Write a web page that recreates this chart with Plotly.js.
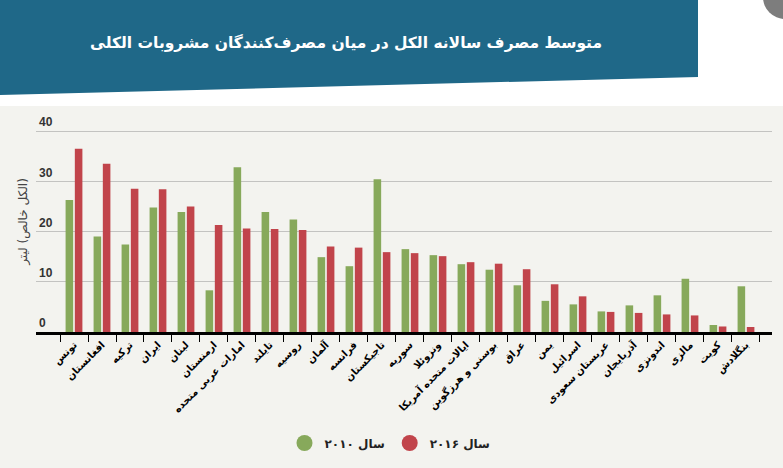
<!DOCTYPE html>
<html>
<head>
<meta charset="utf-8">
<script src="https://cdn.plot.ly/plotly-3.0.1.min.js"></script>
<style>html,body{margin:0;padding:0;background:#fff;}#chart{width:783px;height:468px;}</style>
</head>
<body>
<div id="chart"></div>
<script>
var countries = ['تونس','افغانستان','ترکیه','ایران','لبنان','ارمنستان','امارات عربی متحده','تایلند','روسیه','آلمان','فرانسه','تاجیکستان','سوریه','ونزوئلا','ایالات متحده آمریکا','بوسنی و هرزگوین','عراق','یمن','اسرائیل','عربستان سعودی','آذربایجان','اندونزی','مالزی','کویت','بنگلادش'];
var values2010 = [26.3, 19.0, 17.4, 24.8, 23.9, 8.3, 32.8, 23.9, 22.4, 14.9, 13.1, 30.4, 16.5, 15.3, 13.5, 12.4, 9.3, 6.2, 5.5, 4.1, 5.3, 7.3, 10.6, 1.4, 9.1];
var values2016 = [36.5, 33.5, 28.5, 28.4, 25.0, 21.3, 20.6, 20.5, 20.3, 17.0, 16.8, 15.9, 15.7, 15.1, 13.9, 13.6, 12.5, 9.5, 7.1, 4.0, 3.8, 3.5, 3.3, 1.1, 1.0];
var yTickValues = [0, 10, 20, 30, 40];
var yTickLabels = ['0', '10', '20', '30', '40'];
var seriesNames = ['سال ۲۰۱۰', 'سال ۲۰۱۶'];
var titleText = 'متوسط مصرف سالانه الکل در میان مصرف‌کنندگان مشروبات الکلی';
var yTitleText = '\u200F(الکل خالص) لیتر\u200F';

var GREEN = '#87a95b';
var RED = '#c1444b';

// plot area: x 36..772; y value 0 at 332 px, 5.025 px per unit, range top 44
var YMAX = 44, PB = 332, PT = Math.round(332 - 44 * 5.025);
function px(x){ return (x - 36) / 736; }
function py(y){ return (PB - y) / (PB - PT); }

var traces = [
  {type:'bar', x:countries, y:values2010, name:seriesNames[0], marker:{color:GREEN}, showlegend:false, hoverinfo:'skip'},
  {type:'bar', x:countries, y:values2016, name:seriesNames[1], marker:{color:RED}, showlegend:false, hoverinfo:'skip'},
  {type:'scatter', mode:'markers', x:[null], y:[null], name:seriesNames[0], marker:{color:GREEN, size:16, symbol:'circle'}},
  {type:'scatter', mode:'markers', x:[null], y:[null], name:seriesNames[1], marker:{color:RED, size:16, symbol:'circle'}}
];

var layout = {
  width:783, height:468,
  margin:{l:36, r:11, t:PT, b:468-PB, pad:0},
  paper_bgcolor:'#ffffff',
  plot_bgcolor:'rgba(0,0,0,0)',
  font:{family:'DejaVu Sans, sans-serif', color:'#222'},
  barmode:'group',
  bargap:0.34,
  bargroupgap:0.18,
  title:{text:'<b>'+titleText+'</b>', x:346/783, xanchor:'center', y:1-43/468, yanchor:'middle',
         font:{family:'DejaVu Sans, sans-serif', size:15.5, color:'#ffffff'}},
  xaxis:{
    type:'category',
    range:[-1.357, 24.929],
    tickson:'boundaries',
    ticks:'outside', ticklen:7, tickwidth:1, tickcolor:'#000',
    showline:true, linecolor:'#000', linewidth:3,
    showgrid:false, zeroline:false,
    tickangle:-45,
    tickfont:{family:'DejaVu Sans, sans-serif', size:10, color:'#000', weight:'bold'},
    fixedrange:true
  },
  yaxis:{
    range:[0, YMAX],
    tickmode:'array', tickvals:yTickValues, ticktext:yTickLabels,
    ticks:'', ticklabelposition:'inside', ticklabelshift:-9, ticklabelstandoff:0,
    tickfont:{family:'Liberation Sans, Arial, sans-serif', size:12, color:'#333', weight:'bold'},
    showgrid:true, gridcolor:'#c3c3c1', gridwidth:1,
    zeroline:false, showline:false,
    title:{text:yTitleText, standoff:8, font:{family:'DejaVu Sans, sans-serif', size:12, color:'#444'}},
    fixedrange:true
  },
  legend:{orientation:'h', x:px(390), xanchor:'center', y:py(443), yanchor:'middle',
          bgcolor:'rgba(0,0,0,0)', font:{family:'DejaVu Sans, sans-serif', size:12, color:'#222', weight:'bold'},
          itemclick:false, itemdoubleclick:false},
  shapes:[
    {type:'rect', xref:'paper', yref:'paper', x0:px(0), x1:px(783), y0:py(468), y1:py(106),
     fillcolor:'#f3f3ef', line:{width:0}, layer:'below'},
    {type:'path', xref:'paper', yref:'paper',
     path:'M '+px(0)+','+py(0)+' L '+px(698)+','+py(0)+' L '+px(698)+','+py(77)+' L '+px(0)+','+py(95)+' Z',
     fillcolor:'#1f6888', line:{width:0}, layer:'below'},
    {type:'circle', xref:'paper', yref:'paper', x0:px(763), x1:px(807), y0:py(19), y1:py(-25),
     fillcolor:'#7d7d7d', line:{width:0}, layer:'below'}
  ]
};

Plotly.newPlot('chart', traces, layout, {staticPlot:true, displayModeBar:false});
</script>
</body>
</html>
